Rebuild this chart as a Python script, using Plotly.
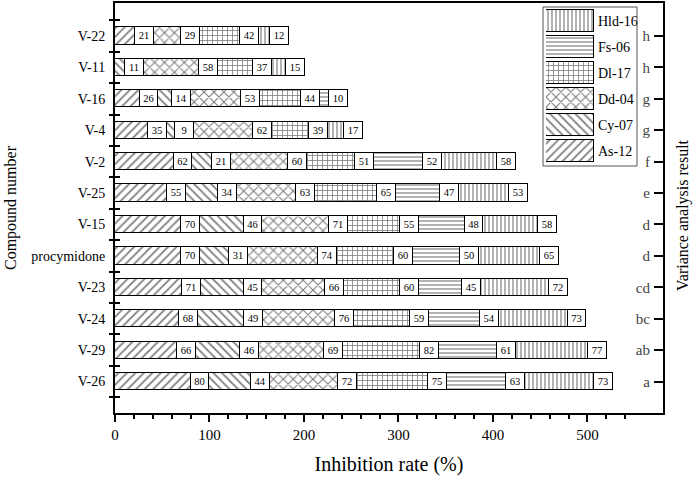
import plotly.graph_objects as go

compounds = ["V-26", "V-29", "V-24", "V-23", "procymidone", "V-15", "V-25",
             "V-2", "V-4", "V-16", "V-11", "V-22"]
variance = ["a", "ab", "bc", "cd", "d", "d", "e", "f", "g", "g", "h", "h"]

series_names = ["As-12", "Cy-07", "Dd-04", "Dl-17", "Fs-06", "Hld-16"]
as12 = [80, 66, 68, 71, 70, 70, 55, 62, 35, 26, 0, 21]
cy07 = [44, 46, 49, 45, 31, 46, 34, 21, 9, 14, 11, 0]
dd04 = [72, 69, 76, 66, 74, 71, 63, 60, 62, 53, 58, 29]
dl17 = [75, 82, 59, 60, 60, 55, 65, 51, 39, 44, 37, 42]
fs06 = [63, 61, 54, 45, 50, 48, 47, 52, 0, 10, 0, 0]
hld16 = [73, 77, 73, 72, 65, 58, 53, 58, 17, 0, 15, 12]
series_values = [as12, cy07, dd04, dl17, fs06, hld16]

x_ticks = [0, 100, 200, 300, 400, 500]

patterns = {"As-12": ("/", 6), "Cy-07": ("\\", 6), "Dd-04": ("x", 7),
            "Dl-17": ("+", 5), "Fs-06": ("-", 4), "Hld-16": ("|", 4)}
LABEL_W = 20
FONT = "Liberation Serif"
SOL = 0.3

n = len(compounds)
pos = list(range(n))
boundaries = [p - 0.5 for p in pos] + [n - 0.5]
yr = [-1, n + 0.05]

fig = go.Figure()
for name, vals in zip(series_names, series_values):
    shp, sz = patterns[name]
    fig.add_trace(go.Bar(
        y=pos, x=[v if v else None for v in vals], orientation="h", width=0.55,
        marker=dict(color="white", line=dict(color="black", width=1),
                    pattern=dict(shape=shp, size=sz, solidity=SOL, fgcolor="black",
                                 bgcolor="white", fillmode="overlay")),
        showlegend=False, hoverinfo="skip"))
    fig.add_trace(go.Bar(
        y=pos, x=[LABEL_W if v else None for v in vals], orientation="h", width=0.55,
        marker=dict(color="white", line=dict(color="black", width=1)),
        text=[str(v) if v else "" for v in vals], textposition="inside",
        insidetextanchor="middle", textangle=0,
        textfont=dict(family=FONT, size=10.5, color="black"),
        showlegend=False, hoverinfo="skip"))

# invisible helpers so that the overlaying axes get drawn
for ax in ["y2", "y3", "y4"]:
    fig.add_trace(go.Scatter(x=[0], y=[0], yaxis=ax, mode="markers",
                             marker=dict(size=1, opacity=0), showlegend=False,
                             hoverinfo="skip"))

# custom legend (large pattern swatches); first category sits at the bottom
for name in series_names:
    shp, sz = patterns[name]
    fig.add_trace(go.Bar(
        y=[name], x=[1], orientation="h", width=0.88, xaxis="x3", yaxis="y5",
        marker=dict(color="white", line=dict(color="black", width=1),
                    pattern=dict(shape=shp, size=sz, solidity=SOL, fgcolor="black",
                                 bgcolor="white", fillmode="overlay")),
        showlegend=False, hoverinfo="skip"))

L, R, T, B = 115, 34, 3, 68
W, H = 697, 481
pw, ph = W - L - R, H - T - B
def px_x(p):
    return (p - L) / pw
def px_y(p):
    return (H - B - p) / ph

fig.update_layout(
    width=W, height=H, barmode="stack", bargap=0,
    margin=dict(l=L, r=R, t=T, b=B, autoexpand=False),
    plot_bgcolor="white", paper_bgcolor="white",
    font=dict(family=FONT, color="black"),
    uniformtext=dict(minsize=10, mode="show"),
    xaxis=dict(range=[0, 580], tickvals=x_ticks, ticks="outside", ticklen=7,
               tickwidth=1.5, tickcolor="black", automargin=False,
               minor=dict(dtick=20, ticks="outside", ticklen=4, tickcolor="black", tickwidth=1.5),
               showline=True, linecolor="black", linewidth=2, mirror=True,
               showgrid=False, zeroline=False,
               tickfont=dict(size=15, family=FONT),
               title=dict(text="Inhibition rate (%)", font=dict(size=20, family=FONT), standoff=15)),
    yaxis=dict(range=yr, tickvals=pos, ticktext=compounds, ticks="", ticklabelstandoff=5,
               showline=True, linecolor="black", linewidth=2, showgrid=False, zeroline=False,
               automargin=False, tickfont=dict(size=14, family=FONT)),
    yaxis2=dict(range=yr, overlaying="y", side="right", tickvals=pos, ticktext=variance,
                ticks="inside", ticklen=9, tickwidth=1.5, tickcolor="black",
                ticklabelposition="inside", ticklabelstandoff=4,
                showline=True, linecolor="black", linewidth=2,
                showgrid=False, zeroline=False, automargin=False,
                tickfont=dict(size=15, family=FONT)),
    yaxis3=dict(range=yr, overlaying="y", side="left", tickvals=boundaries,
                ticks="outside", ticklen=5, tickwidth=1.5, tickcolor="black", automargin=False,
                showticklabels=False, showgrid=False, zeroline=False, showline=False),
    yaxis4=dict(range=yr, overlaying="y", side="left", tickvals=boundaries,
                ticks="inside", ticklen=5, tickwidth=1.5, tickcolor="black", automargin=False,
                showticklabels=False, showgrid=False, zeroline=False, showline=False),
    xaxis3=dict(domain=[px_x(546), px_x(594)], range=[0, 1], anchor="y5",
                visible=False),
    yaxis5=dict(domain=[px_y(164), px_y(8)], anchor="x3", side="right",
                type="category", categoryarray=series_names, categoryorder="array",
                range=[-0.5, len(series_names) - 0.5], automargin=False,
                showline=False, showgrid=False, zeroline=False, ticks="",
                ticklabelstandoff=3, tickfont=dict(size=14, family=FONT)),
    shapes=[dict(type="rect", xref="paper", yref="paper",
                 x0=px_x(543), x1=px_x(637), y0=px_y(166), y1=px_y(7),
                 line=dict(color="#555555", width=1), fillcolor="rgba(0,0,0,0)")],
    annotations=[
        dict(text="Compound number", xref="paper", yref="paper", x=px_x(11), y=px_y(208),
             xanchor="center", yanchor="middle",
             textangle=-90, showarrow=False, font=dict(size=16, family=FONT)),
        dict(text="Variance analysis result", xref="paper", yref="paper", x=px_x(683),
             y=px_y(215), xanchor="center", yanchor="middle",
             textangle=-90, showarrow=False, font=dict(size=16, family=FONT)),
    ],
)

fig.write_html("out.html", config={"displayModeBar": False},
               post_script="document.body.style.margin='0';document.body.style.overflow='hidden';")
